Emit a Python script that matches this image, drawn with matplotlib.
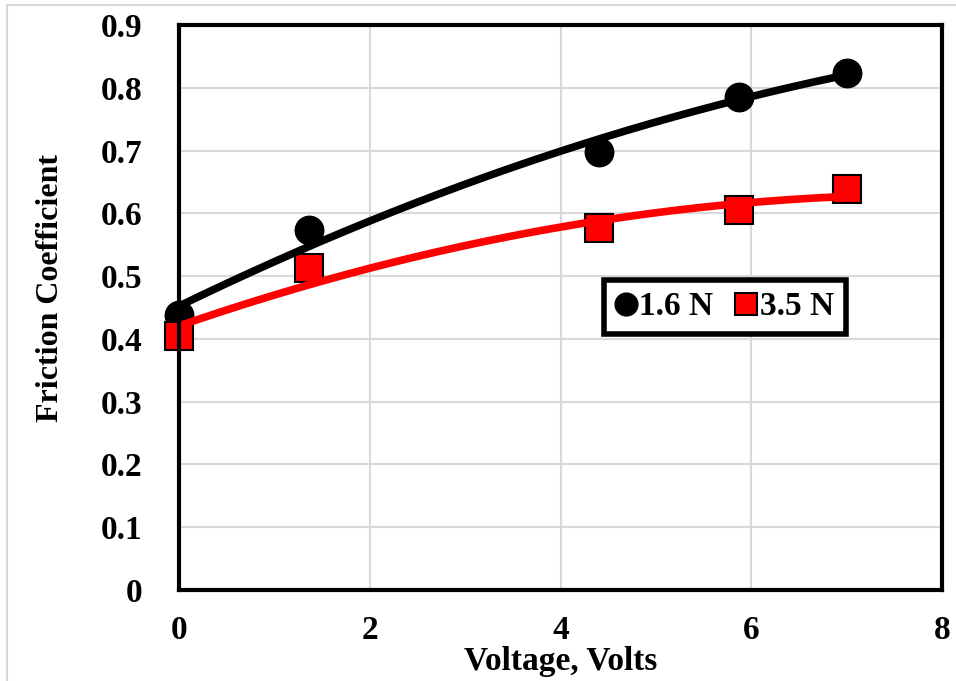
import numpy as np
import matplotlib.pyplot as plt
from matplotlib.patches import Rectangle

# friction coefficient vs applied voltage, two normal loads
voltage = [0, 1.36, 4.4, 5.87, 7.0]
mu_16N = [0.438, 0.573, 0.698, 0.786, 0.824]
mu_35N = [0.405, 0.513, 0.576, 0.605, 0.638]
x_ticks = [0, 2, 4, 6, 8]
y_ticks = [0, 0.1, 0.2, 0.3, 0.4, 0.5, 0.6, 0.7, 0.8, 0.9]

plt.rcParams['font.family'] = ['Liberation Serif', 'DejaVu Serif']
plt.rcParams['font.weight'] = 'bold'

fig = plt.figure(figsize=(9.56, 6.81), dpi=100)
ax = fig.add_axes([0.1872, 0.1336, 0.7982, 0.8297])

# light outer frame of the chart area
fig.patches.append(Rectangle((0.007, -0.01), 1.0, 1.003, transform=fig.transFigure,
                             fill=False, edgecolor='#d9d9d9', linewidth=1.5))

ax.plot(voltage, mu_16N, 'o', color='black', markersize=20.5, zorder=3,
        clip_on=False, label='1.6 N')
ax.plot(voltage, mu_35N, 's', color='#ff0000', markeredgecolor='black',
        markeredgewidth=1.5, markersize=19.5, zorder=3, clip_on=False, label='3.5 N')

# second order trend lines
xs = np.linspace(min(voltage), max(voltage), 200)
for ys, col in ((mu_16N, 'black'), (mu_35N, '#ff0000')):
    coef = np.polyfit(voltage, ys, 2)
    ax.plot(xs, np.polyval(coef, xs), color=col, linewidth=5.5,
            solid_capstyle='butt', zorder=4, clip_on=False)

ax.set_xlim(0, 8)
ax.set_ylim(0, 0.9)
ax.set_xticks(x_ticks)
ax.set_yticks(y_ticks)
ax.set_xticklabels([str(t) for t in x_ticks])
ax.set_yticklabels(['0'] + [f'{t:.1f}' for t in y_ticks[1:]])
ax.tick_params(length=0, labelsize=24)
ax.tick_params(axis='y', pad=26)
ax.tick_params(axis='x', pad=18)
ax.grid(True, color='#d9d9d9', linewidth=1.5)
ax.set_axisbelow(True)
for s in ax.spines.values():
    s.set_linewidth(3)
    s.set_color('black')
    s.set_zorder(5)

ax.set_xlabel('Voltage, Volts', fontsize=24, fontweight='bold', labelpad=0)
ax.set_ylabel('Friction Coefficient', fontsize=23, fontweight='bold')
ax.yaxis.set_label_coords(-0.149, 0.535)

leg = ax.legend(loc='upper left', bbox_to_anchor=(0.557, 0.549), ncol=2,
                fontsize=24, markerscale=0.8, handlelength=0.6, handletextpad=0.1,
                columnspacing=0.7, borderpad=0.35, borderaxespad=0,
                fancybox=False, framealpha=1)
leg.get_frame().set_edgecolor('black')
leg.get_frame().set_linewidth(4)

fig.savefig('out.png', dpi=100)
